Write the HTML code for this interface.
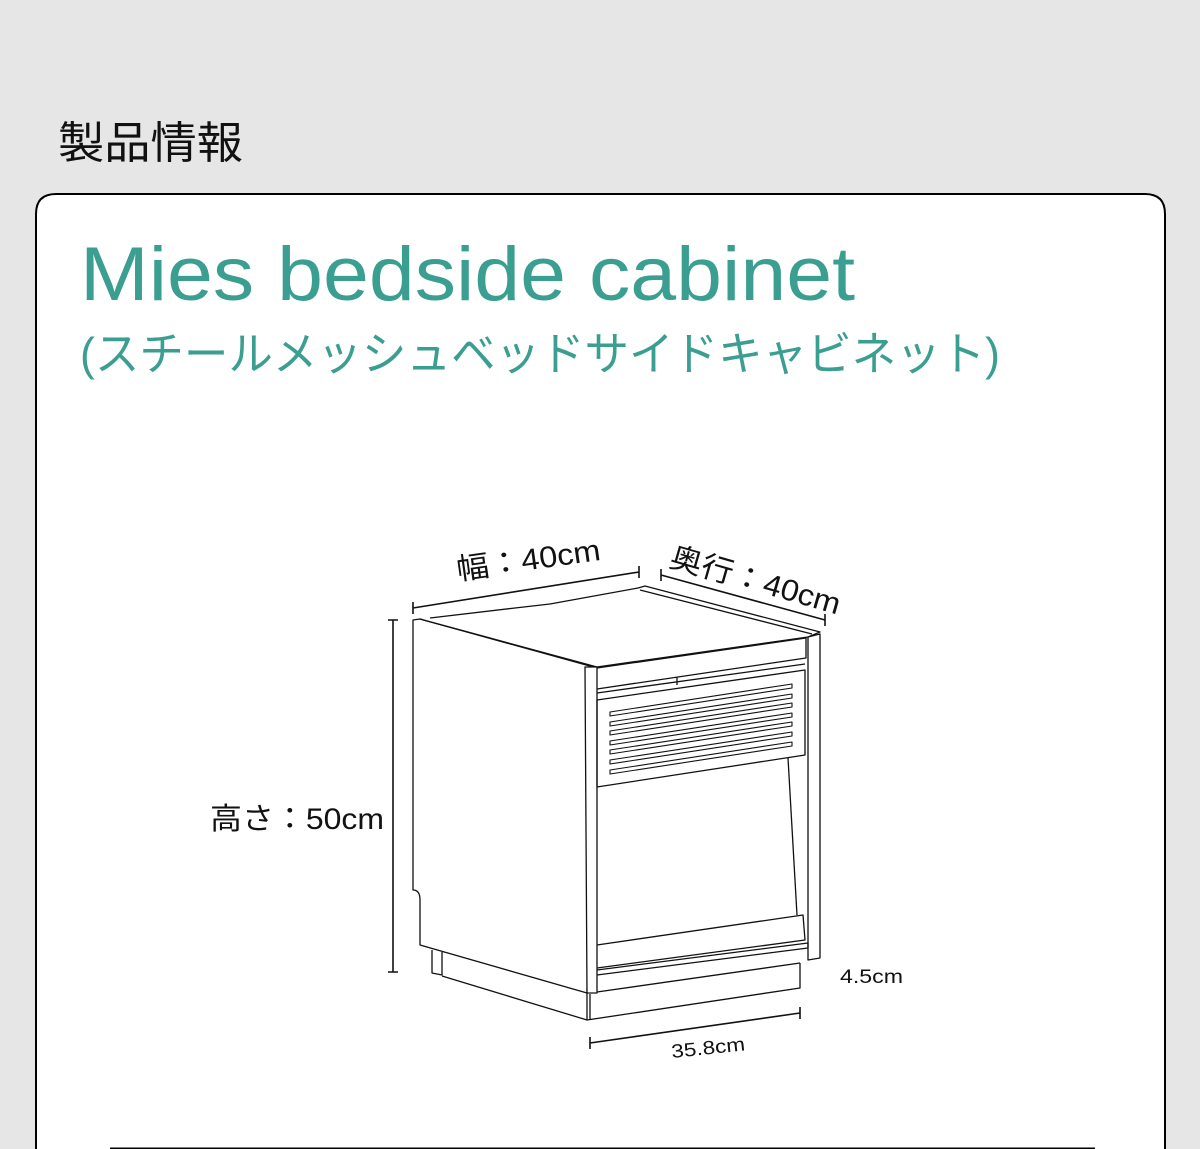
<!DOCTYPE html>
<html><head><meta charset="utf-8"><style>
html,body{margin:0;padding:0;background:#e6e6e6;}
svg{display:block;}
text{font-family:"Liberation Sans","Noto Sans CJK JP",sans-serif;}
</style></head><body>
<svg width="1200" height="1149" viewBox="0 0 1200 1149" xmlns="http://www.w3.org/2000/svg">
<rect width="1200" height="1149" fill="#e6e6e6"/>
<text x="58" y="158" font-size="44" fill="#111" textLength="185" lengthAdjust="spacingAndGlyphs">製品情報</text>
<path d="M36 1160 V214 Q36 194 56 194 H1145 Q1165 194 1165 214 V1160" fill="#fff" stroke="#000" stroke-width="2"/>
<text x="80" y="300" font-size="76" fill="#3a9e91" textLength="775" lengthAdjust="spacingAndGlyphs">Mies bedside cabinet</text>
<text x="80" y="370" font-size="46" fill="#3a9e91" textLength="920" lengthAdjust="spacingAndGlyphs">(スチールメッシュベッドサイドキャビネット)</text>
<line x1="110" y1="1148.5" x2="1095" y2="1148.5" stroke="#000" stroke-width="2"/>

<g fill="none" stroke="#111" stroke-width="1.3" stroke-linejoin="round">
<path d="M413 620 L420 619 L595 667 L587 993 L420 945 L420 900 Q420 890 413 890 Z" fill="#fff"/>
<path d="M420 619 L597 668"/>
<path d="M430 618 L515 608 L550 604 L638 588 L645 586 L820 632 L808 637 L597 667 L420 619" fill="#fff"/>
<path d="M640 590 L812 634"/>
<path d="M585 667 L597 667 L597 993 L587 993 Z" fill="#fff"/>
<path d="M808 637 L820 634 L820 958 L808 960 Z" fill="#fff"/>
<path d="M597 668 L806 638 L806 658 L597 689"/>
<path d="M597 693 L805 664"/>
<path d="M597 700 L805 670 L805 755 L597 787 Z"/>
<path d="M677 677 L677 685"/>
<g stroke-width="1.1">
<path d="M610 712 L792 684 L792 688 L610 716 Z"/>
<path d="M610 722 L792 694 L792 698 L610 726 Z"/>
<path d="M610 731 L792 703 L792 707 L610 735 Z"/>
<path d="M610 741 L792 713 L792 717 L610 745 Z"/>
<path d="M610 750 L792 722 L792 726 L610 754 Z"/>
<path d="M610 760 L792 732 L792 736 L610 764 Z"/>
<path d="M610 770 L792 742 L792 746 L610 774 Z"/>
</g>
<path d="M788 758 L797 915"/>
<path d="M597 945 L803 915 L805 940 L597 968"/>
<path d="M597 970 L808 943 L808 948 L597 975"/>
<path d="M597 992 L800 963"/>
<path d="M432 950 L432 973 L442 975 L442 952"/>
<path d="M442 976 L587 1020 L800 988 L800 963"/>
<path d="M587 993 L587 1020 M590 994 L590 1020"/>
</g>
<g stroke="#111" stroke-width="1.6">
<path d="M413 608 L639 572 M413 602 L413 614 M639 566 L639 578"/>
<path d="M661 575 L825 620 M661 569 L661 581 M825 614 L825 626"/>
<path d="M393 620 V972 M388 620 H398 M388 972 H398"/>
<path d="M590 1043 L800 1013 M590 1037 L590 1049 M800 1007 L800 1019"/>
</g>
<text x="458" y="580" font-size="30" fill="#111" transform="rotate(-8 458 580)" textLength="145" lengthAdjust="spacingAndGlyphs">幅：40cm</text>
<text x="668" y="566" font-size="30" fill="#111" transform="rotate(16 668 566)" textLength="176" lengthAdjust="spacingAndGlyphs">奥行：40cm</text>
<text x="210" y="829" font-size="30" fill="#111" textLength="174" lengthAdjust="spacingAndGlyphs">高さ：50cm</text>
<text x="840" y="983" font-size="19" fill="#111" textLength="63" lengthAdjust="spacingAndGlyphs">4.5cm</text>
<text x="672" y="1058" font-size="19" fill="#111" transform="rotate(-6 672 1058)" textLength="74" lengthAdjust="spacingAndGlyphs">35.8cm</text>
</svg>
</body></html>
